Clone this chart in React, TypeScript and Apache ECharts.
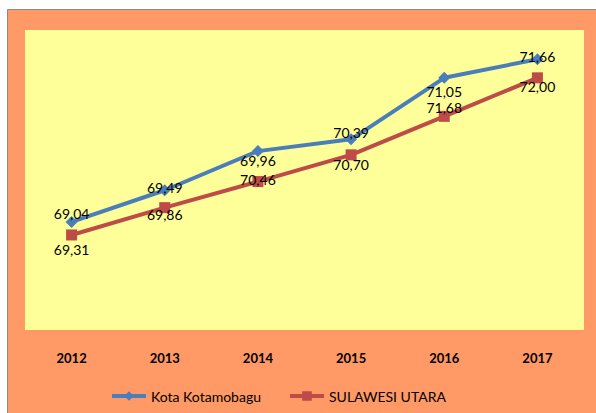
import React, { useEffect, useRef } from "react";
import * as echarts from "echarts";

const years = ["2012", "2013", "2014", "2015", "2016", "2017"];
// values as plotted
const kotaKotamobagu = [69.04, 69.55, 70.18, 70.37, 71.36, 71.66];
const sulawesiUtara = [68.83, 69.27, 69.69, 70.12, 70.74, 71.36];
// data label texts as printed on the chart
const kotaLabels = ["69,04", "69,49", "69,96", "70,39", "71,05", "71,66"];
const sulutLabels = ["69,31", "69,86", "70,46", "70,70", "71,68", "72,00"];
const seriesNames = ["Kota Kotamobagu", "SULAWESI UTARA"];

// label vertical offsets (px) relative to each marker
const kotaLabelDy = [-8, -3, 9, -7, 14, -3];
const sulutLabelDy = [15, 7, -2, 10, -9, 9];

export default function App() {
  const ref = useRef<HTMLDivElement>(null);
  useEffect(() => {
    if (!ref.current) return;
    const chart = echarts.init(ref.current, undefined, { renderer: "svg" });
    const font = "Lato, 'Noto Sans', sans-serif";
    const mk = (vals: number[], dys: number[]) =>
      vals.map((v, i) => ({ value: v, label: { offset: [0, dys[i]] } }));
    const labelStyle = (texts: string[]) => ({
      show: true,
      position: "inside",
      formatter: (p: any) => texts[p.dataIndex],
      fontFamily: font,
      fontSize: 14,
      color: "#000",
    });
    chart.setOption({
      animation: false,
      backgroundColor: "#ffffff",
      textStyle: { fontFamily: font },
      graphic: [
        {
          type: "rect",
          z: -10,
          silent: true,
          shape: { x: 7.5, y: 9.5, width: 600, height: 420 },
          style: { fill: "#FF9966", stroke: "#8a8a8a", lineWidth: 1 },
        },
      ],
      grid: {
        left: 25,
        top: 30,
        width: 559,
        height: 300,
        show: true,
        backgroundColor: "#FFFF99",
        borderWidth: 0,
      },
      legend: {
        left: 110,
        top: 389,
        padding: 0,
        itemWidth: 34,
        itemHeight: 12,
        itemGap: 27,
        lineStyle: { width: 4 },
        textStyle: { fontFamily: font, fontSize: 14, color: "#000" },
        data: seriesNames,
      },
      xAxis: {
        type: "category",
        data: years,
        boundaryGap: true,
        axisLine: { show: false },
        axisTick: { show: false },
        axisLabel: {
          margin: 21,
          fontFamily: font,
          fontSize: 13,
          fontWeight: "bold",
          color: "#000",
        },
      },
      yAxis: { type: "value", min: 67.3, max: 72.13, show: false, splitLine: { show: false } },
      series: [
        {
          name: seriesNames[0],
          type: "line",
          data: mk(kotaKotamobagu, kotaLabelDy),
          symbol: "diamond",
          symbolSize: 12,
          color: "#4A7EBB",
          lineStyle: { width: 4, color: "#4A7EBB" },
          itemStyle: { color: "#4A7EBB" },
          label: labelStyle(kotaLabels),
          z: 3,
        },
        {
          name: seriesNames[1],
          type: "line",
          data: mk(sulawesiUtara, sulutLabelDy),
          symbol: "rect",
          symbolSize: 11,
          color: "#BE4B48",
          lineStyle: { width: 4, color: "#BE4B48" },
          itemStyle: { color: "#BE4B48" },
          label: labelStyle(sulutLabels),
          z: 2,
        },
      ],
    });
    return () => chart.dispose();
  }, []);
  return (
    <div
      ref={ref}
      style={{ position: "absolute", left: 0, top: 0, width: 596, height: 413 }}
    />
  );
}
